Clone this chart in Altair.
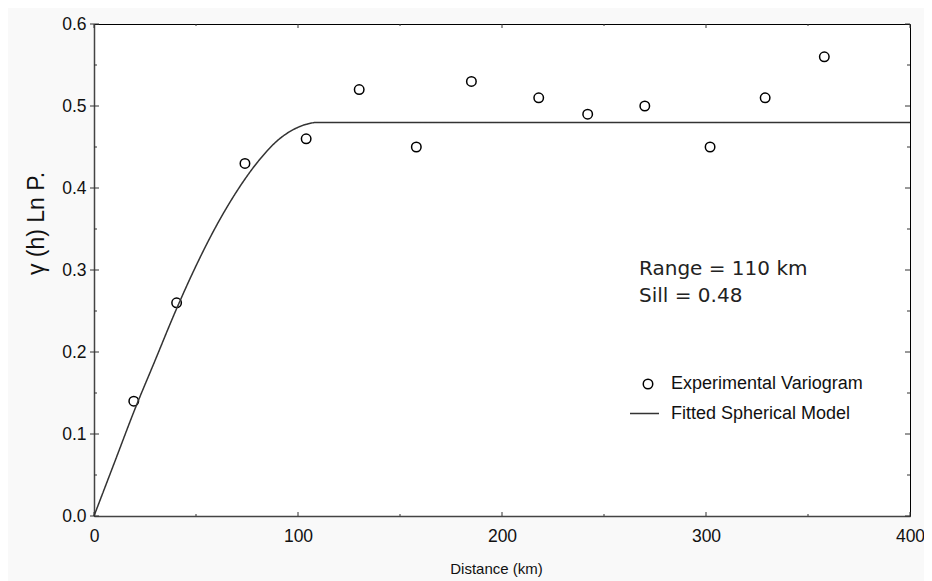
import altair as alt
import pandas as pd

# ---- data ----
lag_km = [19.5, 40.5, 74, 104, 130, 158, 185, 218, 242, 270, 302, 329, 358]
gamma_obs = [0.14, 0.26, 0.43, 0.46, 0.52, 0.45, 0.53, 0.51, 0.49, 0.50, 0.45, 0.51, 0.56]
model_h = [0, 10, 20, 30, 40, 50, 60, 70, 80, 90, 100, 110, 400]
model_g = [0, 0.065, 0.13, 0.19, 0.25, 0.305, 0.354, 0.396, 0.431, 0.458, 0.474, 0.48, 0.48]
x_major = [0, 100, 200, 300, 400]
x_minor = [50, 150, 250, 350]
y_major = [0.0, 0.1, 0.2, 0.3, 0.4, 0.5, 0.6]
y_minor = [0.05, 0.15, 0.25, 0.35, 0.45, 0.55]
annot = ["Range = 110 km", "Sill = 0.48"]
series = ["Experimental Variogram", "Fitted Spherical Model"]
y_title = "γ  (h)  Ln  P."

W, H = 816, 492
FONT = "Liberation Sans"
xs = alt.Scale(domain=[0, 400], nice=False, zero=False)
ys = alt.Scale(domain=[0, 0.6], nice=False)

obs = pd.DataFrame({"h": lag_km, "g": gamma_obs, "s": series[0]})
mod = pd.DataFrame({"h": model_h, "g": model_g, "s": series[1]})

x_axis = alt.Axis(
    values=x_major, format="d", labelFont=FONT, labelFontSize=17.5, labelColor="#111",
    labelPadding=11, labelFlush=False, ticks=False, tickSize=0,
    domainColor="#444", domainWidth=1.5, grid=False,
    title="Distance (km)", titleFont=FONT, titleFontSize=15, titleFontWeight="normal",
    titleColor="#111", titleX=402, titleY=45, titleBaseline="top", titleAlign="center",
)
y_axis = alt.Axis(
    values=y_major, format=".1f", labelFont=FONT, labelFontSize=17.5, labelColor="#111",
    labelPadding=8, labelFlush=False, ticks=False, tickSize=0,
    domainColor="#444", domainWidth=1.5, grid=False,
    title=y_title, titleFont=FONT, titleFontSize=23, titleFontWeight="normal",
    titleColor="#111", titleX=-51, titleY=199, titleBaseline="alphabetic", titleAlign="center",
)

points = alt.Chart(obs).mark_point(
    shape="circle", filled=False, size=90, strokeWidth=1.5, color="black", opacity=1
).encode(
    x=alt.X("h:Q", scale=xs, axis=x_axis),
    y=alt.Y("g:Q", scale=ys, axis=y_axis),
    shape=alt.Shape("s:N", scale=alt.Scale(domain=[series[0]], range=["circle"]),
                    legend=alt.Legend(orient="none", legendX=545, legendY=351, title=None,
                                      padding=0, labelFont=FONT, labelFontSize=18,
                                      labelColor="#111", labelOffset=14, labelLimit=400,
                                      symbolSize=90, symbolStrokeWidth=1.5,
                                      symbolStrokeColor="black", symbolFillColor="transparent",
                                      symbolType="circle")),
)

line = alt.Chart(mod).mark_line(color="#333", strokeWidth=1.5, interpolate="monotone").encode(
    x=alt.X("h:Q", scale=xs, axis=x_axis),
    y=alt.Y("g:Q", scale=ys, axis=y_axis),
    strokeDash=alt.StrokeDash("s:N", scale=alt.Scale(domain=[series[1]], range=[[1, 0]]),
                              legend=alt.Legend(orient="none", legendX=535, legendY=374,
                                                title=None, padding=0, labelFont=FONT,
                                                labelFontSize=18, labelColor="#111",
                                                labelOffset=11, labelLimit=400,
                                                symbolType="stroke", symbolSize=841,
                                                symbolStrokeWidth=1.5,
                                                symbolStrokeColor="#333")),
)


def xticks(vals, top, length, out=0):
    d = pd.DataFrame({"v": vals})
    if top:
        y1, y2 = -out, length
    else:
        y1, y2 = H + out, H - length
    return alt.Chart(d).mark_rule(color="#333", strokeWidth=1).encode(
        x=alt.X("v:Q", scale=xs, axis=x_axis), y=alt.value(y1), y2=alt.value(y2))


def yticks(vals, right, length, out=0):
    d = pd.DataFrame({"v": vals})
    if right:
        x1, x2 = W + out, W - length
    else:
        x1, x2 = -out, length
    return alt.Chart(d).mark_rule(color="#333", strokeWidth=1).encode(
        y=alt.Y("v:Q", scale=ys, axis=y_axis), x=alt.value(x1), x2=alt.value(x2))


tick_layers = [
    xticks(x_major, False, 4), xticks(x_minor, False, 2),
    xticks(x_major, True, 4), xticks(x_minor, True, 2),
    yticks(y_major, False, 5, out=4), yticks(y_minor, False, 3),
    yticks(y_major, True, 5), yticks(y_minor, True, 3),
]

txt_style = dict(align="left", baseline="alphabetic", font="DejaVu Sans", fontSize=20, color="#222")
t1 = alt.Chart(pd.DataFrame({"t": [annot[0]]})).mark_text(**txt_style).encode(
    text="t:N", x=alt.value(545), y=alt.value(251))
t2 = alt.Chart(pd.DataFrame({"t": [annot[1]]})).mark_text(**txt_style).encode(
    text="t:N", x=alt.value(545), y=alt.value(278))

chart = alt.layer(points, line, *tick_layers, t1, t2).properties(
    width=W, height=H,
    autosize=alt.AutoSizeParams(type="none"),
    padding={"left": 86, "top": 16, "right": 14, "bottom": 65},
    background="#f9f9f9",
).configure_view(stroke="black", strokeWidth=1, fill="white")

chart.save("out.html", embed_options={"renderer": "svg", "actions": False})
